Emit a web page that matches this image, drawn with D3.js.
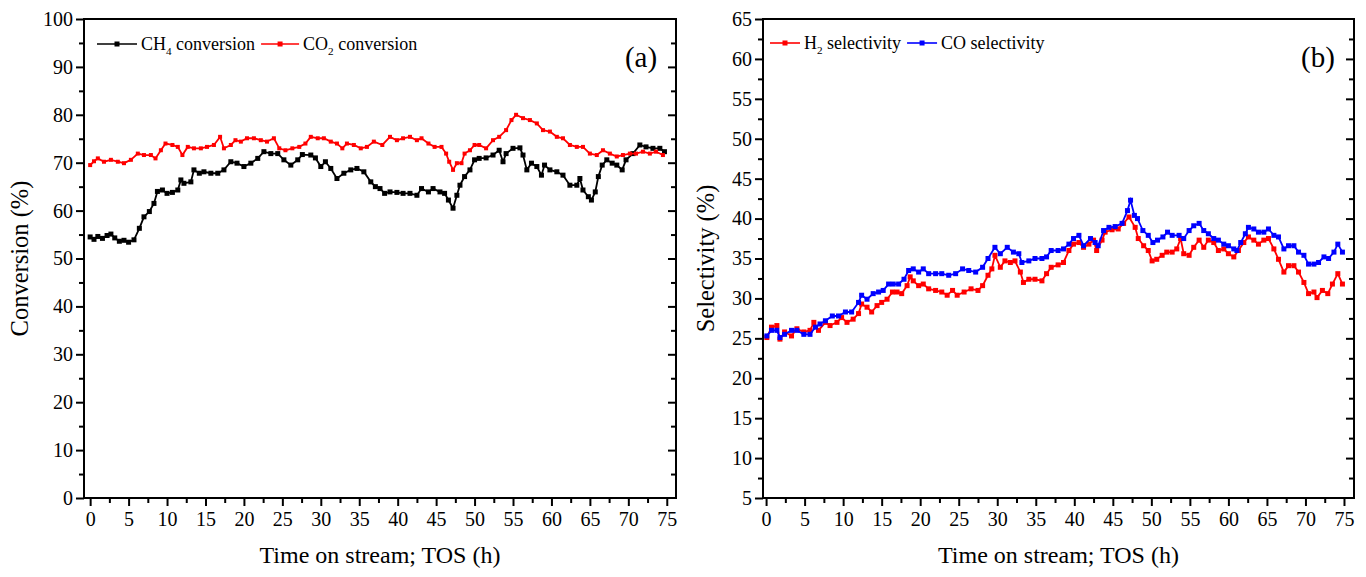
<!DOCTYPE html>
<html>
<head>
<meta charset="utf-8">
<script src="https://cdn.jsdelivr.net/npm/d3@7"></script>
<style>
  html, body { margin: 0; padding: 0; background: #fff; }
  svg { display: block; font-family: "Liberation Serif", "Times New Roman", serif; }
  .frame { fill: none; stroke: #000; stroke-width: 2; }
  .axis path { display: none; }
  .axis line { stroke: #000; stroke-width: 2; }
  .axis text { font-size: 20px; fill: #000; font-family: "Liberation Serif", serif; }
</style>
</head>
<body>
<svg id="chart" width="1366" height="577"></svg>
<script>
/* Time on stream data (TOS in h, values in %) */

// (a) conversion
const ch4Time = [0,0.5,1,1.6,2.2,2.7,3.2,3.8,4.4,5,5.7,6.4,7,7.7,8.3,8.75,9.4,10,10.7,11.4,11.8,12.2,13.1,13.5,14.2,14.8,15.7,16.6,17.4,18.3,19.1,20,20.9,21.8,22.6,23.5,24.4,25.2,26.1,27,27.6,28.7,29.3,30,30.6,31.3,32.1,33,33.9,34.7,35.6,36.5,37.1,37.7,38.3,39,39.9,40.7,41.6,42.5,43.1,44,44.6,45.5,46.1,46.6,47.2,47.7,48.1,48.7,49.4,50,50.6,51.5,52.4,53.2,53.7,54.1,55,55.9,56.3,56.8,57.4,58.1,58.7,59.1,59.8,60.7,61.5,62.4,63.3,63.7,64.1,64.8,65.2,65.7,66.1,66.6,67.2,67.9,68.5,69.2,69.7,70.6,71.5,72.3,73.2,74.1,74.7];
const ch4Conv = [54.5,54.0,54.6,54.2,54.8,55.1,54.3,53.6,53.8,53.4,53.9,56.3,58.7,59.8,61.5,64,64.3,63.6,63.8,64.3,66.4,65.7,66,68.5,67.8,68.1,67.8,67.8,68.5,70.2,69.9,69.2,69.9,70.9,72.3,71.9,71.9,70.6,69.5,70.6,71.7,71.6,71.0,69.2,70.2,68.8,66.7,67.8,68.5,68.8,68.1,66,65,64.6,63.6,63.9,63.8,63.6,63.6,63.2,64.6,63.9,64.6,63.9,63.6,62.2,60.5,63.2,65.3,67.1,68.5,70.6,70.9,71.0,71.6,72.6,70.2,71.9,73,73.1,71.6,68.5,69.9,69.2,67.4,69.5,68.5,68.1,67.4,65.3,65.3,66.7,64.3,62.9,62.2,63.9,67.1,69.5,70.6,69.9,69.5,68.5,70.6,71.9,73.7,73.3,73.0,73.0,72.3];

const co2Time = [0,0.5,1,1.8,2.7,3.6,4.4,5.3,6.2,7,7.9,8.5,9.2,9.8,10.7,11.4,12,12.7,13.5,14.4,15.2,16.1,16.9,17.4,18.3,18.9,19.6,20.4,21.3,22.2,23,23.9,24.6,25.4,26.3,27.2,28,28.7,29.6,30.4,31.3,32.1,32.8,33.4,34.3,35.2,36,36.9,38,39,39.9,40.7,41.6,42.5,43.1,44,44.8,45.7,46.3,46.7,47.2,47.7,48.3,48.7,49.4,50,50.6,51.5,52.4,53.2,54.1,54.8,55.4,56.3,57.2,58.1,58.9,59.8,60.7,61.5,62.4,63.3,64.1,65,65.9,66.7,67.6,68.5,69.3,70.2,71,71.9,72.8,73.6,74.5];
const co2Conv = [69.5,70.3,70.9,70.2,70.6,70.2,69.9,70.6,71.9,71.6,71.6,70.9,72.6,74,73.7,73.3,71.6,73.3,73,73,73.3,73.7,75.4,73,73.7,74.7,74.4,75.1,75.1,74.7,74.4,75.1,73,72.6,73,73.3,74,75.4,75.1,75.1,74.4,74,73,74,73.7,73,73.3,74.4,73.7,75.4,74.7,75.1,75.4,74.7,75.1,74,73.3,73.3,71.9,70.2,68.5,69.9,69.9,71.9,72.6,73.7,73.7,73,74.7,75.4,76.8,78.9,80,79.3,78.9,78.2,76.8,76.5,75.4,75.1,73.7,73.3,73.3,71.9,71.6,72.6,71.9,71.3,71.6,71.9,71.9,72.3,71.9,72.3,71.6];

// (b) selectivity
const h2Time = [0.1,0.7,1.4,1.8,2.4,3.3,4,4.9,5.7,6.2,6.8,7.7,8.3,9.2,9.8,10.5,11.3,12,12.4,13.1,13.7,14.4,15,15.7,16.4,17,17.6,18.3,18.7,19.1,19.8,20.4,21.1,22,22.8,23.5,24.2,24.8,25.7,26.6,27.5,28.1,28.8,29.3,29.7,30.4,31,31.7,32.3,33,33.4,34.1,34.9,35.8,36.4,37,37.9,38.6,39.3,39.9,40.6,41.2,41.9,42.5,42.9,43.6,44,44.9,45.7,46.4,47.1,47.9,48.3,49,49.6,50.1,50.7,51.4,52,52.7,53.3,53.8,54.2,54.9,55.5,56.2,56.8,57.4,58.1,58.7,59.4,60,60.7,61.3,62,62.6,63.3,63.9,64.6,65.2,65.9,66.5,67.2,67.8,68.5,69.1,69.8,70.4,71.1,71.5,72.2,72.9,73.5,74.2,74.8];
const h2Sel = [25.1,26.4,26.6,24.9,25.8,25.3,26.2,25.8,26,27,26,27,26.6,27,27.6,27,27.4,28.1,29.3,28.9,28.3,29.1,29.5,29.9,30.8,30.8,30.6,31.6,32.7,32.2,31.6,31.8,31.2,31,30.8,30.4,31,30.4,30.8,31.2,31,31.6,32.9,33.7,35.4,33.9,34.7,34.5,34.7,33.3,32,32.4,32.4,32.2,33.1,33.9,34.2,34.5,36,36.8,37,36.4,36.8,37.3,36,37.3,38.3,38.6,38.7,39.4,40.2,38.9,37.5,36.6,36,34.7,34.9,35.4,35.8,35.8,36.2,37.5,35.6,35.4,36.4,37.3,36.4,37.3,37,36,36.2,35.6,35.2,36,37,37.7,37.3,36.8,37.3,37.5,36.2,34.9,33.3,34.1,34.1,33.3,32,30.6,30.8,30.1,31,30.6,31.8,33.1,31.8];

const coTime = [0.1,0.7,1.4,1.8,2.4,3.3,4,4.9,5.7,6.4,7,7.7,8.6,9.4,10.3,11.1,12,12.4,13.1,13.9,14.6,15.2,15.9,16.5,17.2,17.9,18.5,19.1,19.8,20.4,21.1,22,22.8,23.7,24.6,25.5,26.3,27.2,28.1,28.8,29.7,30.4,31.3,32.1,32.8,33.2,34.1,34.9,35.8,36.4,37,37.9,38.6,39.3,39.9,40.6,41.2,42.1,42.7,43.1,43.8,44.5,45.3,46.2,46.9,47.3,47.8,48.2,48.9,49.6,50.2,50.8,51.5,52.1,52.7,53.6,54.2,54.9,55.5,56.2,56.8,57.4,58.1,58.7,59.4,60,60.7,61.1,61.6,62.2,62.6,63.3,63.9,64.6,65.2,65.9,66.5,67.2,67.8,68.5,69.1,69.8,70.4,71.1,71.7,72.4,73,73.7,74.2,74.8];
const coSel = [25.3,26,26,25.1,25.5,26,26,25.5,25.5,26.4,26.8,27.2,27.8,27.8,28.3,28.3,29.5,30.4,29.9,30.6,30.8,31,31.8,31.8,31.8,32.4,33.5,33.7,33.3,33.7,33.1,33.1,33.1,32.9,33.1,33.7,33.5,33.3,33.9,35,36.4,35.6,36.4,35.8,35.6,34.5,34.7,35,35,35.2,36,36,36.2,36.8,37.5,37.9,36.6,37.5,37,36.6,38.5,38.9,39,39.4,41,42.3,40.4,40,38.5,37.9,37,37.3,37.7,38.3,37.9,37.9,37.5,38.5,39.1,39.4,38.5,38.1,37.5,37.3,36.8,36.6,36.2,36,37,38.1,38.9,38.7,38.3,38.3,38.7,37.9,37.7,36.2,36.6,36.6,35.8,35.4,34.3,34.3,34.5,35.2,35,35.8,36.8,35.8];

const xTicks = d3.range(0, 76, 5);
const convTicks = d3.range(0, 101, 10);
const selTicks = d3.range(5, 66, 5);

const svg = d3.select('#chart');

/* ---- one panel ----------------------------------------------------------- */
function drawPanel(p) {
  const x = d3.scaleLinear().domain(p.xDomain).range([p.left, p.right]);
  const y = d3.scaleLinear().domain(p.yDomain).range([p.bottom, p.top]);
  const g = svg.append('g');

  const yMinor = d3.range(p.yDomain[0], p.yDomain[1], p.yStep / 2).filter(v => !p.yTicks.includes(v));
  const xMinor = d3.range(0, 76, 2.5).filter(v => !xTicks.includes(v));

  // bottom axis
  g.append('g').attr('class', 'axis').attr('transform', `translate(0,${p.bottom})`)
    .call(d3.axisBottom(x).tickValues(xTicks).tickSize(8).tickPadding(6).tickFormat(d3.format('d')));
  g.append('g').attr('class', 'axis').attr('transform', `translate(0,${p.bottom})`)
    .call(d3.axisBottom(x).tickValues(xMinor).tickSize(5).tickFormat(''));

  // left axis
  g.append('g').attr('class', 'axis').attr('transform', `translate(${p.left},0)`)
    .call(d3.axisLeft(y).tickValues(p.yTicks).tickSize(8).tickPadding(3).tickFormat(d3.format('d')));
  g.append('g').attr('class', 'axis').attr('transform', `translate(${p.left},0)`)
    .call(d3.axisLeft(y).tickValues(yMinor).tickSize(5).tickFormat(''));

  // right axis, ticks pointing in
  g.append('g').attr('class', 'axis').attr('transform', `translate(${p.right},0)`)
    .call(d3.axisLeft(y).tickValues(p.yTicks.slice(1, -1)).tickSize(8).tickFormat(''));
  g.append('g').attr('class', 'axis').attr('transform', `translate(${p.right},0)`)
    .call(d3.axisLeft(y).tickValues(yMinor).tickSize(5).tickFormat(''));

  g.append('rect').attr('class', 'frame')
    .attr('x', p.left).attr('y', p.top)
    .attr('width', p.right - p.left).attr('height', p.bottom - p.top);

  // series
  p.series.forEach(s => {
    const pts = s.t.map((t, i) => [t, s.v[i]]);
    g.append('path')
      .attr('d', d3.line().x(d => x(d[0])).y(d => y(d[1]))(pts))
      .attr('fill', 'none').attr('stroke', s.color).attr('stroke-width', 1.8);
    g.append('g').selectAll('rect').data(pts).enter().append('rect')
      .attr('x', d => x(d[0]) - s.size / 2).attr('y', d => y(d[1]) - s.size / 2)
      .attr('width', s.size).attr('height', s.size)
      .attr('fill', s.color);
  });

  // legend
  let lx = p.legendX;
  p.series.forEach(s => {
    g.append('line').attr('x1', lx).attr('x2', lx + s.legLen)
      .attr('y1', p.legendY).attr('y2', p.legendY)
      .attr('stroke', s.color).attr('stroke-width', 1.6);
    g.append('rect').attr('x', lx + s.legLen / 2 - 2.5).attr('y', p.legendY - 2.5)
      .attr('width', 5).attr('height', 5).attr('fill', s.color);
    const txt = g.append('text').attr('x', lx + s.legLen + 4).attr('y', p.legendY + 6)
      .attr('font-size', p.legendFont).attr('fill', '#000');
    txt.append('tspan').text(s.name[0]);
    if (s.name[1]) {
      txt.append('tspan').attr('font-size', p.legendFont * 0.62).attr('dy', 5).text(s.name[1]);
      txt.append('tspan').attr('dy', -5).text(s.name[2]);
    }
    lx += s.legLen + 4 + txt.node().getComputedTextLength() + 6;
  });

  // panel tag
  g.append('text').attr('x', p.tagX).attr('y', 67).attr('font-size', 29)
    .attr('text-anchor', 'middle').text(p.tag);

  // titles
  g.append('text').attr('x', (p.left + p.right) / 2).attr('y', 563)
    .attr('font-size', 24).attr('text-anchor', 'middle').text('Time on stream; TOS (h)');
  g.append('text').attr('transform', `translate(${p.yTitleX},${(p.top + p.bottom) / 2}) rotate(-90)`)
    .attr('font-size', 24.5).attr('text-anchor', 'middle').text(p.yTitle);
}

drawPanel({
  left: 84, right: 676, top: 19, bottom: 498,
  xDomain: [-0.8, 76.2], yDomain: [0, 100], yTicks: convTicks, yStep: 10,
  yTitle: 'Conversion (%)', yTitleX: 28, tag: '(a)', tagX: 641,
  legendX: 97, legendY: 44, legendFont: 18,
  series: [
    { name: ['CH', '4', ' conversion'], t: ch4Time, v: ch4Conv, color: '#000', size: 5, legLen: 40 },
    { name: ['CO', '2', ' conversion'], t: co2Time, v: co2Conv, color: '#ff0000', size: 4, legLen: 38 }
  ]
});

drawPanel({
  left: 763, right: 1354, top: 19, bottom: 498,
  xDomain: [-0.4, 76.3], yDomain: [5, 65], yTicks: selTicks, yStep: 5,
  yTitle: 'Selectivity (%)', yTitleX: 714, tag: '(b)', tagX: 1318,
  legendX: 770, legendY: 43, legendFont: 18,
  series: [
    { name: ['H', '2', ' selectivity'], t: h2Time, v: h2Sel, color: '#ff0000', size: 5, legLen: 30 },
    { name: ['CO selectivity'], t: coTime, v: coSel, color: '#0000ff', size: 5, legLen: 30 }
  ]
});
</script>
</body>
</html>
